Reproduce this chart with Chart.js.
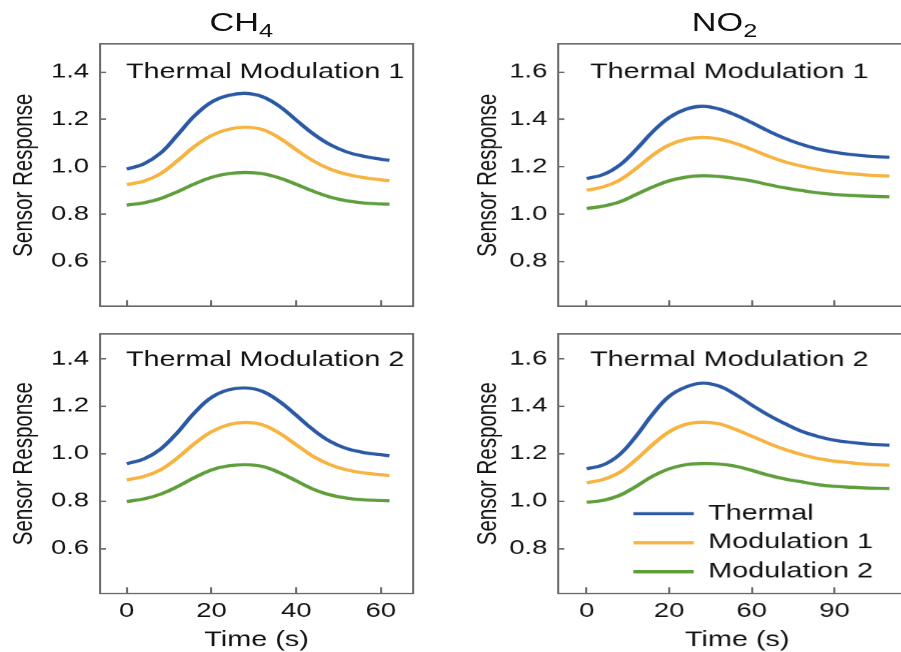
<!DOCTYPE html>
<html>
<head>
<meta charset="utf-8">
<script src="https://cdn.jsdelivr.net/npm/chart.js@4.4.1/dist/chart.umd.min.js"></script>
<style>
  html, body { margin: 0; padding: 0; background: #fff; overflow: hidden; }
  body { width: 901px; height: 652px; position: relative; }
  /* the figure is drawn on a narrower stage and stretched sideways, like the source image */
  #stage { position: absolute; left: 0; top: 0; width: 658px; height: 652px;
           transform: scaleX(1.37); transform-origin: 0 0;
           font-family: "Liberation Sans", Arial, sans-serif; }
  #stage canvas { position: absolute; }
  .gas { position: absolute; top: 10px; font-size: 25px; line-height: 25px; color: #111; white-space: nowrap; }
  .gas sub { font-size: 18.5px; vertical-align: -5.7px; line-height: 0; }
</style>
</head>
<body>
<div id="stage">
  <div class="gas" style="left:153px">CH<sub>4</sub></div>
  <div class="gas" style="left:505px">NO<sub>2</sub></div>
  <canvas id="c1" width="330" height="320" style="left:0;top:0"></canvas>
  <canvas id="c2" width="360" height="320" style="left:330px;top:0"></canvas>
  <canvas id="c3" width="330" height="332" style="left:0;top:320px"></canvas>
  <canvas id="c4" width="360" height="332" style="left:330px;top:320px"></canvas>
</div>
<script>
// time axes (s)
const ch4Time = [0, 4, 8, 12, 16, 20, 24, 28, 32, 36, 40, 44, 48, 52, 56, 60, 62];
const no2Time = [0, 6, 12, 18, 24, 30, 36, 42, 48, 54, 60, 66, 72, 78, 84, 90, 96, 102, 110];

// CH4, Thermal Modulation 1
const ch4Tm1Thermal = [0.990, 1.012, 1.058, 1.135, 1.215, 1.273, 1.301, 1.310, 1.296, 1.256, 1.197, 1.139, 1.093, 1.062, 1.044, 1.032, 1.027];
const ch4Tm1Mod1    = [0.925, 0.939, 0.971, 1.026, 1.086, 1.132, 1.158, 1.167, 1.157, 1.122, 1.072, 1.025, 0.990, 0.968, 0.954, 0.945, 0.941];
const ch4Tm1Mod2    = [0.838, 0.848, 0.866, 0.895, 0.928, 0.955, 0.971, 0.976, 0.971, 0.953, 0.926, 0.897, 0.872, 0.856, 0.847, 0.843, 0.842];
// CH4, Thermal Modulation 2
const ch4Tm2Thermal = [0.958, 0.978, 1.020, 1.090, 1.173, 1.237, 1.269, 1.277, 1.263, 1.221, 1.162, 1.101, 1.052, 1.021, 1.005, 0.996, 0.992];
const ch4Tm2Mod1    = [0.890, 0.904, 0.933, 0.983, 1.043, 1.093, 1.122, 1.132, 1.122, 1.087, 1.038, 0.989, 0.954, 0.932, 0.919, 0.912, 0.908];
const ch4Tm2Mod2    = [0.799, 0.810, 0.830, 0.862, 0.900, 0.932, 0.949, 0.954, 0.947, 0.921, 0.886, 0.851, 0.827, 0.813, 0.806, 0.803, 0.802];
// NO2, Thermal Modulation 1
const no2Tm1Thermal = [1.150, 1.167, 1.207, 1.273, 1.348, 1.408, 1.443, 1.455, 1.444, 1.419, 1.386, 1.351, 1.320, 1.295, 1.275, 1.261, 1.252, 1.245, 1.240];
const no2Tm1Mod1    = [1.101, 1.115, 1.144, 1.193, 1.249, 1.292, 1.316, 1.324, 1.317, 1.299, 1.273, 1.245, 1.221, 1.203, 1.189, 1.178, 1.171, 1.165, 1.161];
const no2Tm1Mod2    = [1.024, 1.034, 1.052, 1.083, 1.115, 1.141, 1.156, 1.162, 1.159, 1.151, 1.140, 1.125, 1.111, 1.100, 1.090, 1.083, 1.079, 1.076, 1.073];
// NO2, Thermal Modulation 2
const no2Tm2Thermal = [1.137, 1.153, 1.197, 1.275, 1.367, 1.442, 1.481, 1.497, 1.485, 1.450, 1.405, 1.363, 1.327, 1.295, 1.273, 1.257, 1.248, 1.241, 1.236];
const no2Tm2Mod1    = [1.078, 1.092, 1.122, 1.176, 1.239, 1.293, 1.324, 1.333, 1.326, 1.303, 1.274, 1.244, 1.218, 1.197, 1.180, 1.169, 1.162, 1.156, 1.152];
const no2Tm2Mod2    = [0.996, 1.004, 1.025, 1.063, 1.106, 1.137, 1.154, 1.159, 1.157, 1.148, 1.130, 1.110, 1.094, 1.082, 1.070, 1.063, 1.059, 1.056, 1.054];

const seriesNames = ['Thermal', 'Modulation 1', 'Modulation 2'];
const seriesColors = ['#2b59a5', '#f6b33f', '#5e9e3b'];

const ch4TicksX = [0, 20, 40, 60];
const ch4LabelsX = ['0', '20', '40', '60'];
const no2TicksX = [0, 30, 60, 90];
const no2LabelsX = ['0', '20', '60', '90'];
const ch4TicksY = [0.6, 0.8, 1.0, 1.2, 1.4];
const no2TicksY = [0.8, 1.0, 1.2, 1.4, 1.6];

const S = 1.37;
const FRAME = '#6a6a6a';
const INK = '#111';

Chart.defaults.font.family = '"Liberation Sans", Arial, sans-serif';
Chart.defaults.color = INK;

// "Thermal Modulation N" inside the frame
const panelLabel = {
  id: 'panelLabel',
  afterDraw(chart, args, opts) {
    const ctx = chart.ctx;
    ctx.save();
    ctx.font = '21px "Liberation Sans", Arial, sans-serif';
    ctx.fillStyle = INK;
    ctx.textBaseline = 'alphabetic';
    ctx.fillText(opts.text, opts.x, opts.y);
    ctx.restore();
  }
};

// put the chartArea legend where the figure has it
const legendSpot = {
  id: 'legendSpot',
  afterLayout(chart, args, opts) {
    const lg = chart.legend;
    if (!lg) return;
    const w = lg.width;
    lg.left = opts.left;
    lg.right = opts.left + w;
    lg.top = opts.top;
    lg.bottom = chart.height;
  }
};

function fixedTicks(values) {
  return scale => { scale.ticks = values.map(v => ({ value: v })); };
}

// fixed axis size, and no extra room asked for end labels
function fixedSize(key, size) {
  return s => {
    s[key] = size;
    s.paddingTop = 0; s.paddingBottom = 0; s.paddingLeft = 0; s.paddingRight = 0;
  };
}

function makePanel(id, p) {
  const datasets = p.series.map((vals, i) => ({
    label: seriesNames[i],
    data: p.time.map((t, k) => ({ x: t, y: vals[k] })),
    xAxisID: 'x',
    yAxisID: 'y',
    borderColor: seriesColors[i],
    backgroundColor: seriesColors[i],
    borderWidth: 3.2,
    pointRadius: 0,
    tension: 0.4,
    fill: false
  }));

  return new Chart(document.getElementById(id), {
    type: 'line',
    data: { datasets },
    options: {
      responsive: false,
      animation: false,
      devicePixelRatio: S,
      layout: { autoPadding: false, padding: p.pad },
      scales: {
        x: {
          type: 'linear',
          min: p.xMin,
          max: p.xMax,
          afterBuildTicks: fixedTicks(p.xTicks),
          afterFit: fixedSize('height', p.xHeight),
          grid: { drawOnChartArea: false, color: FRAME, lineWidth: 1.5, tickLength: -6 },
          border: { color: FRAME, width: 1.5 },
          ticks: {
            display: p.showX, padding: 12.3, maxRotation: 0, autoSkip: false,
            font: { size: 20 },
            callback: (v, i) => p.xLabels[i]
          },
          title: { display: p.showX, text: 'Time (s)', font: { size: 21 }, padding: 0 }
        },
        y: {
          type: 'linear',
          min: p.yMin,
          max: p.yMax,
          afterBuildTicks: fixedTicks(p.yTicks),
          afterFit: fixedSize('width', p.yWidth),
          grid: { drawOnChartArea: false, color: FRAME, lineWidth: 1.5, tickLength: -4.4 },
          border: { color: FRAME, width: 1.5 },
          ticks: { padding: 12.4, font: { size: 20 }, callback: v => v.toFixed(1) },
          title: { display: true, text: 'Sensor Response', font: { size: 20.5 }, padding: { top: p.yTitlePad, bottom: 0 } }
        },
        xTop: {
          type: 'linear',
          position: 'top',
          grid: { drawOnChartArea: false, drawTicks: false },
          ticks: { display: false },
          border: { color: FRAME, width: 1.5 },
          afterFit: fixedSize('height', 0)
        },
        yRight: {
          type: 'linear',
          position: 'right',
          grid: { drawOnChartArea: false, drawTicks: false },
          ticks: { display: false },
          border: { color: FRAME, width: 1.5 },
          afterFit: fixedSize('width', 0)
        }
      },
      plugins: {
        tooltip: { enabled: false },
        legend: {
          display: !!p.legend,
          position: 'chartArea',
          align: 'start',
          labels: {
            usePointStyle: true,
            pointStyle: 'line',
            pointStyleWidth: 44,
            padding: 8,
            color: INK,
            font: { size: 21 }
          }
        },
        panelLabel: p.label,
        legendSpot: p.legend || {}
      }
    },
    plugins: p.legend ? [panelLabel, legendSpot] : [panelLabel]
  });
}

makePanel('c1', {
  time: ch4Time, series: [ch4Tm1Thermal, ch4Tm1Mod1, ch4Tm1Mod2],
  xMin: -6.3, xMax: 67.6, xTicks: ch4TicksX, xLabels: ch4LabelsX, showX: false, xHeight: 14,
  yMin: 0.411, yMax: 1.518, yTicks: ch4TicksY, yWidth: 73, yTitlePad: 5.5,
  pad: { top: 44, right: 28.5, bottom: 0, left: 0 },
  label: { text: 'Thermal Modulation 1', x: 92, y: 78.3 }
});

makePanel('c2', {
  time: no2Time, series: [no2Tm1Thermal, no2Tm1Mod1, no2Tm1Mod2],
  xMin: -10.3, xMax: 119.7, xTicks: no2TicksX, xLabels: no2LabelsX, showX: false, xHeight: 14,
  yMin: 0.611, yMax: 1.718, yTicks: no2TicksY, yWidth: 77.5, yTitlePad: 13.8,
  pad: { top: 44, right: 21.4, bottom: 0, left: 0 },
  label: { text: 'Thermal Modulation 1', x: 100.7, y: 78.3 }
});

makePanel('c3', {
  time: ch4Time, series: [ch4Tm2Thermal, ch4Tm2Mod1, ch4Tm2Mod2],
  xMin: -6.3, xMax: 67.6, xTicks: ch4TicksX, xLabels: ch4LabelsX, showX: true, xHeight: 59.3,
  yMin: 0.413, yMax: 1.504, yTicks: ch4TicksY, yWidth: 73, yTitlePad: 5.5,
  pad: { top: 14, right: 28.5, bottom: 0, left: 0 },
  label: { text: 'Thermal Modulation 2', x: 92, y: 45.7 }
});

makePanel('c4', {
  time: no2Time, series: [no2Tm2Thermal, no2Tm2Mod1, no2Tm2Mod2],
  xMin: -10.3, xMax: 119.7, xTicks: no2TicksX, xLabels: no2LabelsX, showX: true, xHeight: 59.3,
  yMin: 0.613, yMax: 1.704, yTicks: no2TicksY, yWidth: 77.5, yTitlePad: 13.8,
  pad: { top: 14, right: 21.4, bottom: 0, left: 0 },
  label: { text: 'Thermal Modulation 2', x: 100.7, y: 45.7 },
  legend: { left: 124.3, top: 174.8 }
});
</script>
</body>
</html>
